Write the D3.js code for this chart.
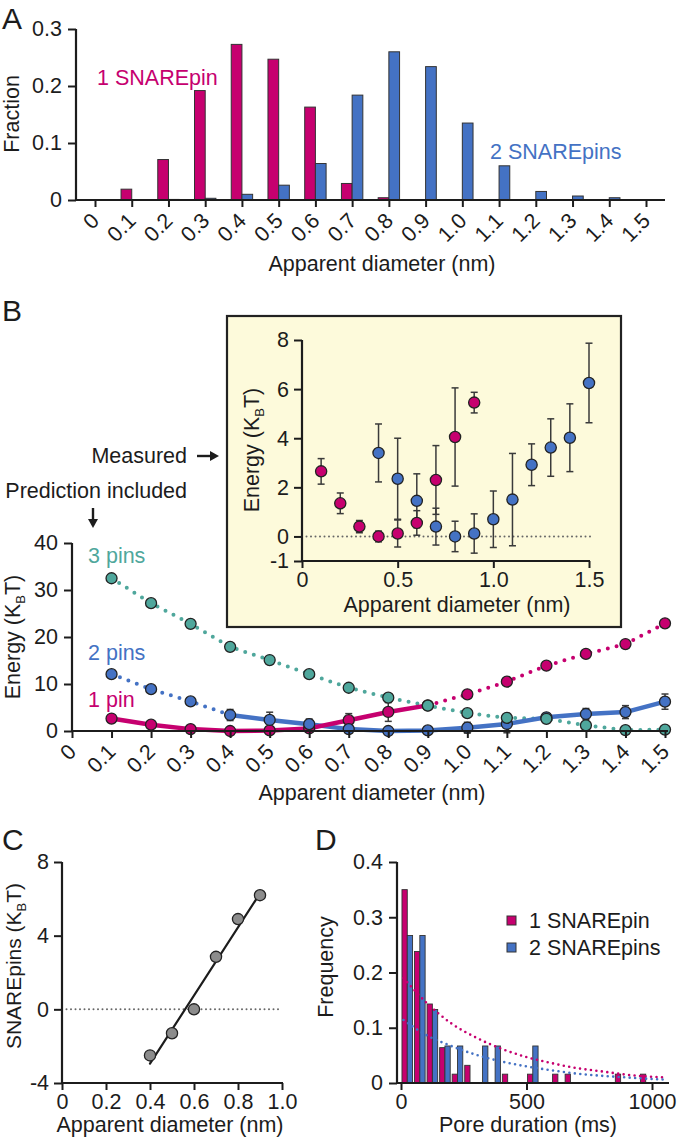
<!DOCTYPE html>
<html><head><meta charset="utf-8">
<script src="https://cdn.jsdelivr.net/npm/d3@7"></script>
<style>
body{margin:0;background:#fff;}
svg{display:block;font-family:"Liberation Sans",Arial,Helvetica,sans-serif;}
</style></head><body>
<svg id="c" width="677" height="1141"></svg>
<script>
// ================= DATA =================
const diamTicks = [0,0.1,0.2,0.3,0.4,0.5,0.6,0.7,0.8,0.9,1.0,1.1,1.2,1.3,1.4,1.5];
const diamTickLabels = ["0","0.1","0.2","0.3","0.4","0.5","0.6","0.7","0.8","0.9","1.0","1.1","1.2","1.3","1.4","1.5"];

// Panel A: histogram of apparent diameters
const histDiam   = [0.1,0.2,0.3,0.4,0.5,0.6,0.7,0.8,0.9,1.0,1.1,1.2,1.3,1.4,1.5];
const frac1Pin   = [0.019,0.071,0.192,0.273,0.247,0.163,0.029,0.004,0,0,0,0,0,0,0];
const frac2Pins  = [0,0.001,0.003,0.010,0.026,0.064,0.184,0.260,0.234,0.135,0.060,0.015,0.007,0.004,0];
const fracTicks  = [0,0.1,0.2,0.3];
const fracTickLabels = ["0","0.1","0.2","0.3"];

// Panel B main: predicted energies (kBT)
const predDiam = [0.1,0.2,0.3,0.4,0.5,0.6,0.7,0.8,0.9,1.0,1.1,1.2,1.3,1.4,1.5];
const pred1Pin = [2.65,1.35,0.4,0.0,0.12,0.55,2.3,4.05,5.45,7.8,10.5,13.9,16.4,18.5,22.9];
const pred2Pins= [12.1,8.9,6.3,3.4,2.35,1.45,0.4,0.0,0.12,0.7,1.5,2.92,3.62,4.02,6.25];
const pred3Pins= [32.5,27.2,22.8,17.9,15.1,12.1,9.2,7.1,5.4,3.8,2.8,2.6,1.2,0.2,0.3];
const energyTicks = [0,10,20,30,40];
const energyTickLabels = ["0","10","20","30","40"];

// Panel B inset: measured energies with error bars
const meas1Diam = [0.1,0.2,0.3,0.4,0.5,0.6,0.7,0.8,0.9];
const meas1     = [2.65,1.35,0.4,0.0,0.12,0.55,2.3,4.05,5.45];
const meas1Err  = [0.52,0.42,0.25,0.22,0.55,0.5,1.4,2.0,0.42];
const meas2Diam = [0.4,0.5,0.6,0.7,0.8,0.9,1.0,1.1,1.2,1.3,1.4,1.5];
const meas2     = [3.4,2.35,1.45,0.4,0.0,0.12,0.7,1.5,2.92,3.62,4.02,6.25];
const meas2Err  = [1.18,1.65,1.1,0.75,0.62,0.8,1.15,1.88,0.85,1.17,1.38,1.62];
const insetYTicks = [-1,0,2,4,6,8];
const insetYTickLabels = ["-1","0","2","4","6","8"];
const insetXTicks = [0,0.5,1.0,1.5];
const insetXTickLabels = ["0","0.5","1.0","1.5"];

// Panel C
const cDiam   = [0.4,0.5,0.6,0.7,0.8,0.9];
const cEnergy = [-2.5,-1.3,0.0,2.85,4.9,6.2];
const cFit    = [[0.4,-2.95],[0.9,6.3]];
const cYTicks = [-4,0,4,8];
const cYTickLabels = ["-4","0","4","8"];
const cXTicks = [0,0.2,0.4,0.6,0.8,1.0];
const cXTickLabels = ["0","0.2","0.4","0.6","0.8","1.0"];

// Panel D
const durBins  = [25,75,125,175,225,275,325,375,425,475,525,575,625,675,725,775,825,875,925,975];
const dur1Pin  = [0.35,0.238,0.143,0.064,0.016,0.032,0,0,0.016,0,0.016,0,0.016,0.016,0,0,0,0.016,0,0.016];
const dur2Pins = [0.267,0.267,0.133,0.067,0.067,0,0.067,0.067,0,0,0.067,0,0,0,0,0,0,0,0,0];
const fit1Pin  = [[10,0.19],[100,0.146],[200,0.108],[300,0.082],[400,0.062],[500,0.047],[600,0.036],[700,0.027],[800,0.021],[900,0.015],[1050,0.010]];
const fit2Pins = [[10,0.114],[100,0.087],[200,0.067],[300,0.051],[400,0.039],[500,0.030],[600,0.023],[700,0.017],[800,0.013],[900,0.010],[1050,0.006]];
const freqTicks = [0,0.1,0.2,0.3,0.4];
const freqTickLabels = ["0","0.1","0.2","0.3","0.4"];
const durTicks = [0,500,1000];
const durTickLabels = ["0","500","1000"];

// ================= STYLE =================
const PINK="#C6006F", BLUE="#4472C4", TEAL="#4FA79C", GRAY="#8C8C8C", INK="#1c1c1c";
const FS = 21.5;
const svg = d3.select("#c");

function styleAxis(g){
  g.attr("font-size",null).attr("font-family",null);
  g.selectAll(".tick line").attr("stroke",INK).attr("stroke-width",2);
  g.selectAll(".tick text").attr("fill",INK).style("font-size",FS+"px");
}
function hLine(x0,x1,y){ svg.append("line").attr("x1",x0).attr("x2",x1).attr("y1",y).attr("y2",y).attr("stroke",INK).attr("stroke-width",2.2); }
function vLine(x,y0,y1){ svg.append("line").attr("x1",x).attr("x2",x).attr("y1",y0).attr("y2",y1).attr("stroke",INK).attr("stroke-width",2.2); }
function yAxis(scale,ticks,labels,x,pad){
  const g = svg.append("g").attr("transform",`translate(${x},0)`)
    .call(d3.axisLeft(scale).tickValues(ticks).tickFormat((d,i)=>labels[i]).tickSize(8).tickSizeOuter(0).tickPadding(pad||6));
  g.select(".domain").remove(); styleAxis(g); return g;
}
function xAxis(scale,ticks,labels,y,rotated){
  const g = svg.append("g").attr("transform",`translate(0,${y})`)
    .call(d3.axisBottom(scale).tickValues(ticks).tickFormat((d,i)=>labels[i]).tickSize(7).tickSizeOuter(0).tickPadding(4));
  g.select(".domain").remove(); styleAxis(g);
  if(rotated){
    g.selectAll(".tick text").attr("x",0).attr("y",0).attr("dy",0)
      .attr("text-anchor","end").attr("transform","translate(5,22) rotate(-45)");
  }
  return g;
}
function text(x,y,str,opts={}){
  const t = svg.append("text").attr("x",x).attr("y",y).text(str)
    .style("font-size",(opts.size||FS)+"px").attr("fill",opts.color||INK)
    .attr("text-anchor",opts.anchor||"start");
  if(opts.rotate) t.attr("transform",`rotate(-90,${x},${y})`);
  return t;
}
function kbtLabel(x,y,prefix,size){
  const fs = size||FS;
  const t = svg.append("text").attr("x",x).attr("y",y).attr("text-anchor","middle")
    .attr("transform",`rotate(-90,${x},${y})`).style("font-size",fs+"px").attr("fill",INK);
  t.append("tspan").text(prefix+"(K");
  t.append("tspan").style("font-size","13px").attr("dy",5).text("B");
  t.append("tspan").attr("dy",-5).text("T)");
}
function errorBars(xs,ys,es,xS,yS,cap){
  const g = svg.append("g").attr("stroke","#3a3a3a").attr("stroke-width",1.5);
  xs.forEach((d,i)=>{
    const x=xS(d), y0=yS(ys[i]-es[i]), y1=yS(ys[i]+es[i]);
    g.append("line").attr("x1",x).attr("x2",x).attr("y1",y0).attr("y2",y1);
    g.append("line").attr("x1",x-cap).attr("x2",x+cap).attr("y1",y0).attr("y2",y0);
    g.append("line").attr("x1",x-cap).attr("x2",x+cap).attr("y1",y1).attr("y2",y1);
  });
}
function dots(xs,ys,xS,yS,fill,r){
  svg.append("g").selectAll("circle").data(xs.map((d,i)=>[d,ys[i]])).join("circle")
    .attr("cx",d=>xS(d[0])).attr("cy",d=>yS(d[1])).attr("r",r||5.5)
    .attr("fill",fill).attr("stroke","#222").attr("stroke-width",1.3);
}
function path(pts,xS,yS,color,dotted,width,gap,curve){
  const line = d3.line().x(d=>xS(d[0])).y(d=>yS(d[1])).curve(curve||d3.curveLinear);
  const p = svg.append("path").attr("d",line(pts)).attr("fill","none").attr("stroke",color)
    .attr("stroke-width",width).attr("stroke-linecap","round").attr("stroke-linejoin","round");
  if(dotted) p.attr("stroke-dasharray",`0 ${gap}`);
  return p;
}
const zip=(a,b)=>a.map((d,i)=>[d,b[i]]);

// ================= PANEL A =================
const xA = d3.scaleLinear().domain([0,1.5]).range([95,646]);
const yA = d3.scaleLinear().domain([0,0.3]).range([200,29]);
const bwA = 10.7;
svg.append("g").selectAll("rect").data(zip(histDiam,frac1Pin).filter(d=>d[1]>0)).join("rect")
  .attr("x",d=>xA(d[0])-bwA).attr("y",d=>yA(d[1])).attr("width",bwA).attr("height",d=>yA(0)-yA(d[1]))
  .attr("fill",PINK).attr("stroke","#333").attr("stroke-width",1);
svg.append("g").selectAll("rect").data(zip(histDiam,frac2Pins).filter(d=>d[1]>0)).join("rect")
  .attr("x",d=>xA(d[0])).attr("y",d=>yA(d[1])).attr("width",bwA).attr("height",d=>yA(0)-yA(d[1]))
  .attr("fill",BLUE).attr("stroke","#333").attr("stroke-width",1);
yAxis(yA,fracTicks,fracTickLabels,76,6);
vLine(76,29,201);
xAxis(xA,diamTicks,diamTickLabels,200,true);
hLine(76,665,200);
text(2,29,"A",{size:30});
text(19,114,"Fraction",{rotate:true,anchor:"middle"});
text(382,271,"Apparent diameter (nm)",{anchor:"middle"});
text(97,85,"1 SNAREpin",{color:PINK});
text(490,159,"2 SNAREpins",{color:BLUE});

// ================= PANEL B inset =================
svg.append("rect").attr("x",227).attr("y",316).attr("width",394).attr("height",311)
  .attr("fill","#FDFADB").attr("stroke","#222").attr("stroke-width",2.2);
const xI = d3.scaleLinear().domain([0,1.5]).range([302,589]);
const yI = d3.scaleLinear().domain([-1,8]).range([561,340]);
svg.append("line").attr("x1",xI(0)).attr("x2",593).attr("y1",yI(0)).attr("y2",yI(0))
  .attr("stroke","#666").attr("stroke-width",2).attr("stroke-linecap","round").attr("stroke-dasharray","0 4.5");
yAxis(yI,insetYTicks,insetYTickLabels,302,5);
vLine(302,340,562);
const gIX = xAxis(xI,insetXTicks,insetXTickLabels,561,false);
gIX.selectAll(".tick line").attr("y2",7);
hLine(301,590,561);
kbtLabel(259,450,"Energy ");
text(457,612,"Apparent diameter (nm)",{anchor:"middle"});
errorBars(meas1Diam,meas1,meas1Err,xI,yI,3.5);
errorBars(meas2Diam,meas2,meas2Err,xI,yI,3.5);
dots(meas1Diam,meas1,xI,yI,PINK,5.6);
dots(meas2Diam,meas2,xI,yI,BLUE,5.6);

// ================= PANEL B main =================
const xB = d3.scaleLinear().domain([0,1.5]).range([72,665]);
const yB = d3.scaleLinear().domain([0,40]).range([731,543]);
const p1 = zip(predDiam,pred1Pin), p2 = zip(predDiam,pred2Pins), p3 = zip(predDiam,pred3Pins);
path(p3,xB,yB,TEAL,true,4,9);
path(p2.slice(0,4),xB,yB,BLUE,true,4,9);
path(p2.slice(3),xB,yB,BLUE,false,4.5);
path(p1.slice(8),xB,yB,PINK,true,4,9);
path(p1.slice(0,9),xB,yB,PINK,false,4.5);
errorBars(meas1Diam,meas1,meas1Err,xB,yB,3.5);
errorBars(meas2Diam,meas2,meas2Err,xB,yB,3.5);
dots(predDiam,pred1Pin,xB,yB,PINK,5.5);
dots(predDiam,pred2Pins,xB,yB,BLUE,5.5);
dots(predDiam,pred3Pins,xB,yB,TEAL,5.5);
yAxis(yB,energyTicks,energyTickLabels,72,6);
vLine(72,543,732);
xAxis(xB,diamTicks,diamTickLabels,731,true);
hLine(71,668,731);
text(2,321,"B",{size:30});
kbtLabel(20,637,"Energy ");
text(372,800,"Apparent diameter (nm)",{anchor:"middle"});
text(88,563,"3 pins",{color:TEAL});
text(88,660,"2 pins",{color:BLUE});
text(88,707,"1 pin",{color:PINK});
text(187,463,"Measured",{anchor:"end"});
text(187,498,"Prediction included",{anchor:"end"});
// arrows
svg.append("line").attr("x1",197).attr("x2",211).attr("y1",456).attr("y2",456).attr("stroke",INK).attr("stroke-width",2.4);
svg.append("path").attr("d","M219,456 L210,451 L210,461 Z").attr("fill",INK);
svg.append("line").attr("x1",93).attr("x2",93).attr("y1",508).attr("y2",520).attr("stroke",INK).attr("stroke-width",2.4);
svg.append("path").attr("d","M93,528 L88,519 L98,519 Z").attr("fill",INK);

// ================= PANEL C =================
const xC = d3.scaleLinear().domain([0,1]).range([62,282]);
const yC = d3.scaleLinear().domain([-4,8]).range([1083,862]);
svg.append("line").attr("x1",xC(0)).attr("x2",279).attr("y1",yC(0)).attr("y2",yC(0))
  .attr("stroke","#666").attr("stroke-width",2).attr("stroke-linecap","round").attr("stroke-dasharray","0 4.5");
path(cFit,xC,yC,INK,false,2.2);
dots(cDiam,cEnergy,xC,yC,GRAY,5.6);
yAxis(yC,cYTicks,cYTickLabels,62,5);
vLine(62,862,1084);
xAxis(xC,cXTicks,cXTickLabels,1083,false);
hLine(61,283,1083);
text(2,850,"C",{size:30});
kbtLabel(21,966,"SNAREpins ",21);
text(170,1132,"Apparent diameter (nm)",{anchor:"middle"});

// ================= PANEL D =================
const xD = d3.scaleLinear().domain([0,1000]).range([401,652]);
const yD = d3.scaleLinear().domain([0,0.4]).range([1083,862]);
const bwD = 5.3;
svg.append("g").selectAll("rect").data(zip(durBins,dur1Pin).filter(d=>d[1]>0)).join("rect")
  .attr("x",d=>xD(d[0])-bwD).attr("y",d=>yD(d[1])).attr("width",bwD).attr("height",d=>yD(0)-yD(d[1]))
  .attr("fill",PINK).attr("stroke","#333").attr("stroke-width",0.9);
svg.append("g").selectAll("rect").data(zip(durBins,dur2Pins).filter(d=>d[1]>0)).join("rect")
  .attr("x",d=>xD(d[0])).attr("y",d=>yD(d[1])).attr("width",bwD).attr("height",d=>yD(0)-yD(d[1]))
  .attr("fill",BLUE).attr("stroke","#333").attr("stroke-width",0.9);
path(fit1Pin,xD,yD,PINK,true,2.6,5.5,d3.curveMonotoneX);
path(fit2Pins,xD,yD,BLUE,true,2.6,5.5,d3.curveMonotoneX);
yAxis(yD,freqTicks,freqTickLabels,397,6);
vLine(397,862,1084);
xAxis(xD,durTicks,durTickLabels,1083,false);
hLine(396,669,1083);
text(315,850,"D",{size:30});
text(333,967,"Frequency",{rotate:true,anchor:"middle"});
text(528,1132,"Pore duration (ms)",{anchor:"middle"});
// legend
svg.append("rect").attr("x",507).attr("y",916).attr("width",9).attr("height",9).attr("fill",PINK).attr("stroke","#333").attr("stroke-width",1);
svg.append("rect").attr("x",507).attr("y",943).attr("width",9).attr("height",9).attr("fill",BLUE).attr("stroke","#333").attr("stroke-width",1);
text(529,928,"1 SNAREpin");
text(529,955,"2 SNAREpins");
</script>
</body></html>
